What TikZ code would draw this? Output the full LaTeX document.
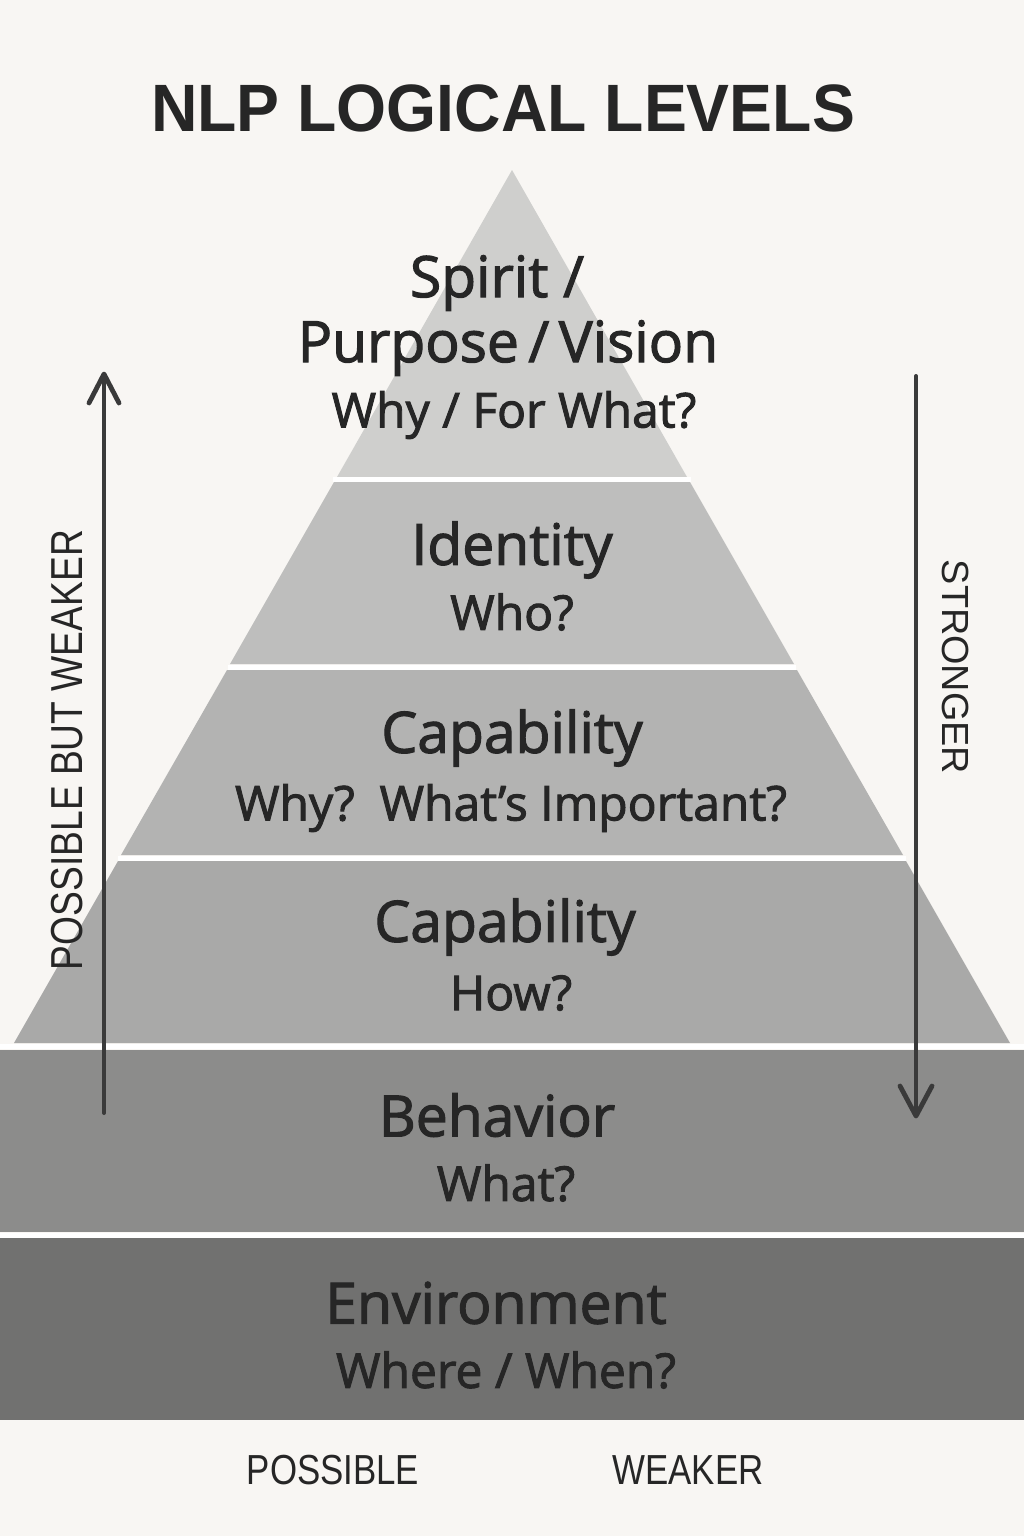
\documentclass[tikz,border=0pt]{standalone}
\usepackage{fontspec}
\setmainfont{Open Sans}
\newfontfamily\labf[FakeBold=2]{Open Sans}
\newfontfamily\arialf{Liberation Sans}
\usetikzlibrary{arrows.meta}
\definecolor{bg}{HTML}{F8F6F3}
\definecolor{ink}{HTML}{262626}
\definecolor{arr}{HTML}{3A3A3A}
\definecolor{bandA}{HTML}{CFCFCD}
\definecolor{bandB}{HTML}{BEBEBD}
\definecolor{bandC}{HTML}{B3B3B2}
\definecolor{bandD}{HTML}{A9A9A8}
\definecolor{bandE}{HTML}{8C8C8B}
\definecolor{bandF}{HTML}{717170}
\begin{document}
\begin{tikzpicture}[x=0.5pt,y=-0.5pt,
  head/.style={text=ink,inner sep=0pt,font=\labf\fontsize{28.5}{30}\selectfont},
  sub/.style={text=ink,inner sep=0pt,font=\labf\fontsize{24}{26}\selectfont},
  side/.style={text=ink,inner sep=0pt,font=\arialf\fontsize{22.4}{24}\selectfont},
  flow/.style={draw=arr,line width=2pt,line cap=round},
  barb/.style={draw=arr,line width=2.4pt,line cap=round,line join=round},
  gap/.style={draw=white,line width=2.5pt}]
\useasboundingbox (0,0) rectangle (1024,1536);
\fill[bg] (0,0) rectangle (1024,1536);
% bands
\fill[bandA] (512,170) -- (687,477) -- (337,477) -- cycle;
\fill[bandB] (334,482) -- (690,482) -- (794,664) -- (230,664) -- cycle;
\fill[bandC] (227,670) -- (797,670) -- (903,855) -- (121,855) -- cycle;
\fill[bandD] (118,861) -- (906,861) -- (1010,1043) -- (14,1043) -- cycle;
\fill[bandE] (0,1050) rectangle (1024,1232);
\fill[bandF] (0,1238) rectangle (1024,1420);
\draw[gap] (0,1046.5) -- (1024,1046.5);
\draw[gap] (0,1235) -- (1024,1235);
\draw[gap] (333,479.5) -- (691,479.5);
\draw[gap] (228,667) -- (796,667);
\draw[gap] (118,858) -- (906,858);
% title
\node[text=ink,inner sep=0pt] (title) at (503,108) {\scalebox{0.96}[1]{\arialf\bfseries\fontsize{33.5}{36}\selectfont NLP LOGICAL LEVELS}};
% labels
\node[head] (spirit) at (497,283) {Spirit /};
\node[head] (purpose) at (508,348) {Purpose\,/\,Vision};
\node[sub] (why) at (514,415) {Why / For What?};
\node[head] (ident) at (512,550) {Identity};
\node[sub] (who) at (512,612) {Who?};
\node[head] (cap1) at (512,738) {Capability};
\node[sub] (imp) at (511,808) {Why?\ \ What’s Important?};
\node[head] (cap2) at (505,927) {Capability};
\node[sub] (how) at (511,993) {How?};
\node[head] (beh) at (497,1115) {Behavior};
\node[sub] (what) at (506,1183) {What?};
\node[head] (env) at (496,1303) {Environment};
\node[sub] (where) at (506,1370) {Where / When?};
% bottom labels
\node[side] (possible) at (333,1470) {\scalebox{0.83}[1]{\fontsize{21}{24}\selectfont POSSIBLE}};
\node[side] (weaker) at (688,1470) {\scalebox{0.83}[1]{\fontsize{21}{24}\selectfont WEAKER}};
% side labels
\node[side,rotate=90] (pbw) at (67,750) {\scalebox{0.83}[1]{POSSIBLE BUT WEAKER}};
\node[side,rotate=-90] (strong) at (955,667) {\fontsize{18.9}{22}\selectfont STRONGER};
% arrows
\coordinate (l0) at (104,1113);
\coordinate (l1) at (104,374);
\coordinate (r0) at (916,376);
\coordinate (r1) at (916,1116);
\draw[flow] (l0) -- (l1);
\draw[barb] (l1) ++(-15,29) -- (l1) -- ++(15,29);
\draw[flow] (r0) -- (r1);
\draw[barb] (r1) ++(-16,-30) -- (r1) -- ++(16,-30);
\end{tikzpicture}
\end{document}
